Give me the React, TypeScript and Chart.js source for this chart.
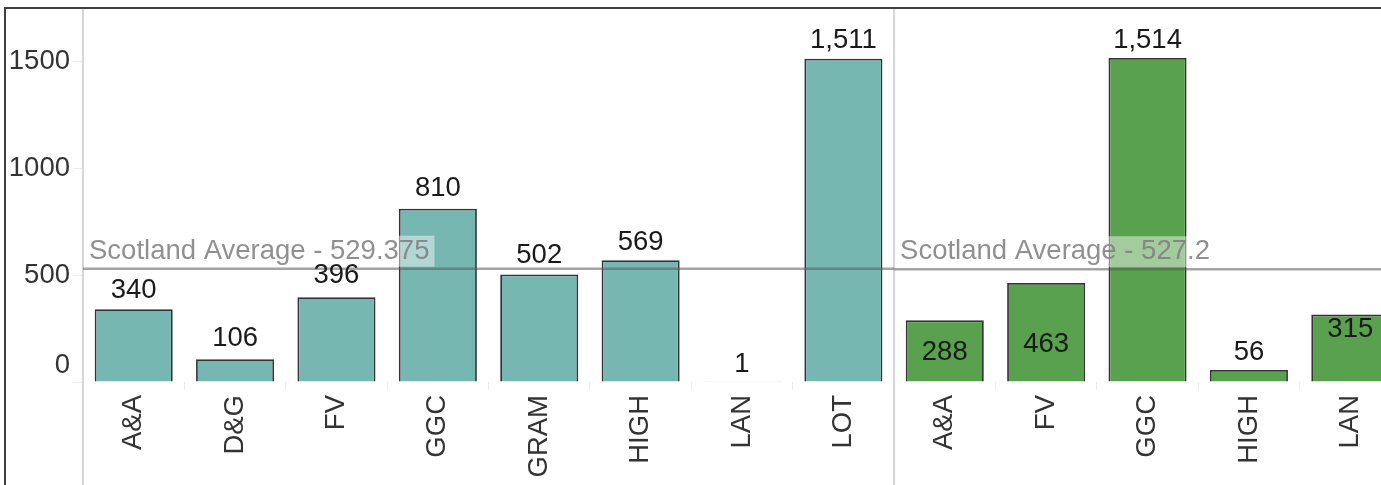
import React, { useEffect, useRef } from "react";
import { Chart, registerables } from "chart.js";

Chart.register(...registerables);

const categories = ["A&A", "D&G", "FV", "GGC", "GRAM", "HIGH", "LAN", "LOT", "A&A", "FV", "GGC", "HIGH", "LAN"];
const leftValues = [340, 106, 396, 810, 502, 569, 1, 1511];
const rightValues = [288, 463, 1514, 56, 315];
const panelAverages = [529.375, 527.2];
const yTickValues = [0, 500, 1000, 1500];
// vertical offset (px) of each data label's centre from its bar top
const labelOffsets = [-21, -23, -24, -23, -21, -20, -20, -21, 30, 59, -20, -20, 13];

const FAMILY = '"Liberation Sans", Arial, sans-serif';
const FS = 27.5;
const TEAL = "#76B7B2";
const GREEN = "#59A14F";

const values = [...leftValues, ...rightValues];
const colors = [...leftValues.map(() => TEAL), ...rightValues.map(() => GREEN)];

const overlay = {
  id: "overlay",
  afterDatasetsDraw(chart: any) {
    const { ctx, chartArea, scales } = chart;
    const x = scales.x;
    const y = scales.y;
    const n = leftValues.length;
    const boundary = (x.getPixelForValue(n - 1) + x.getPixelForValue(n)) / 2;
    ctx.save();
    ctx.strokeStyle = "#d6d6d6";
    ctx.lineWidth = 2;
    [chartArea.left, boundary].forEach((px: number) => {
      ctx.beginPath();
      ctx.moveTo(px, chartArea.top);
      ctx.lineTo(px, chart.height);
      ctx.stroke();
    });
    const panels = [
      [chartArea.left, boundary],
      [boundary, chartArea.right],
    ];
    ctx.font = `${FS}px ${FAMILY}`;
    const capMid = FS * 0.36;
    panelAverages.forEach((avg, i) => {
      const [l, r] = panels[i];
      const py = y.getPixelForValue(avg);
      ctx.strokeStyle = "rgba(90,90,90,0.55)";
      ctx.lineWidth = 2.5;
      ctx.beginPath();
      ctx.moveTo(l, py);
      ctx.lineTo(r, py);
      ctx.stroke();
      const text = `Scotland Average - ${avg}`;
      const w = ctx.measureText(text).width;
      ctx.fillStyle = "rgba(255,255,255,0.45)";
      ctx.fillRect(l + 3, py - 33, w + 8, 31);
      ctx.fillStyle = "rgba(125,125,125,0.85)";
      ctx.textBaseline = "alphabetic";
      ctx.textAlign = "left";
      ctx.fillText(text, l + 6, py - 10);
    });
    const meta = chart.getDatasetMeta(0);
    ctx.fillStyle = "#1a1a1a";
    ctx.textAlign = "center";
    ctx.textBaseline = "alphabetic";
    meta.data.forEach((bar: any, i: number) => {
      ctx.fillText(values[i].toLocaleString("en-US"), bar.x, bar.y + labelOffsets[i] + capMid);
    });
    ctx.restore();
  },
};

export default function App() {
  const ref = useRef<HTMLCanvasElement | null>(null);
  useEffect(() => {
    if (!ref.current) return;
    const chart = new Chart(ref.current, {
      type: "bar",
      data: {
        labels: categories,
        datasets: [
          {
            data: values,
            backgroundColor: colors,
            borderColor: "#333",
            borderWidth: 1.8,
            categoryPercentage: 1,
            barPercentage: 0.77,
          },
        ],
      },
      options: {
        animation: false,
        responsive: true,
        maintainAspectRatio: false,
        layout: { padding: { top: 9, left: 0, right: 0, bottom: 0 } },
        plugins: { legend: { display: false }, tooltip: { enabled: false } },
        scales: {
          x: {
            afterFit: (s: any) => {
              s.height = 103;
              s.paddingLeft = 0;
              s.paddingRight = 0;
            },
            border: { display: false },
            grid: { drawOnChartArea: false, tickLength: 8, color: "#ececec", offset: true },
            ticks: {
              minRotation: 90,
              maxRotation: 90,
              autoSkip: false,
              padding: 5,
              color: "#333",
              font: { size: FS, family: FAMILY },
            },
          },
          y: {
            min: 0,
            max: 1743,
            afterFit: (s: any) => {
              s.width = 83;
              s.paddingTop = 0;
              s.paddingBottom = 0;
            },
            afterBuildTicks: (s: any) => {
              s.ticks = yTickValues.map((v) => ({ value: v }));
            },
            border: { display: false },
            grid: { drawOnChartArea: false, tickLength: 10, color: "#ececec" },
            ticks: {
              padding: 3,
              color: "#333",
              font: { size: FS, family: FAMILY, lineHeight: 1.2 },
              callback: (v: any) => (Number(v) === 0 ? ["0", ""] : String(v)),
            },
          },
        },
      },
      plugins: [overlay],
    });
    return () => chart.destroy();
  }, []);

  return (
    <div
      style={{
        position: "fixed",
        left: 0,
        top: 0,
        width: 1381,
        height: 485,
        overflow: "hidden",
        background: "#fff",
      }}
    >
      <div
        style={{
          position: "absolute",
          left: 4,
          top: 7,
          width: 2000,
          height: 1000,
          border: "2px solid #3f3f3f",
          boxSizing: "border-box",
        }}
      />
      <div style={{ position: "absolute", left: 0, top: 0, width: 1401, height: 485 }}>
        <canvas ref={ref} />
      </div>
    </div>
  );
}
